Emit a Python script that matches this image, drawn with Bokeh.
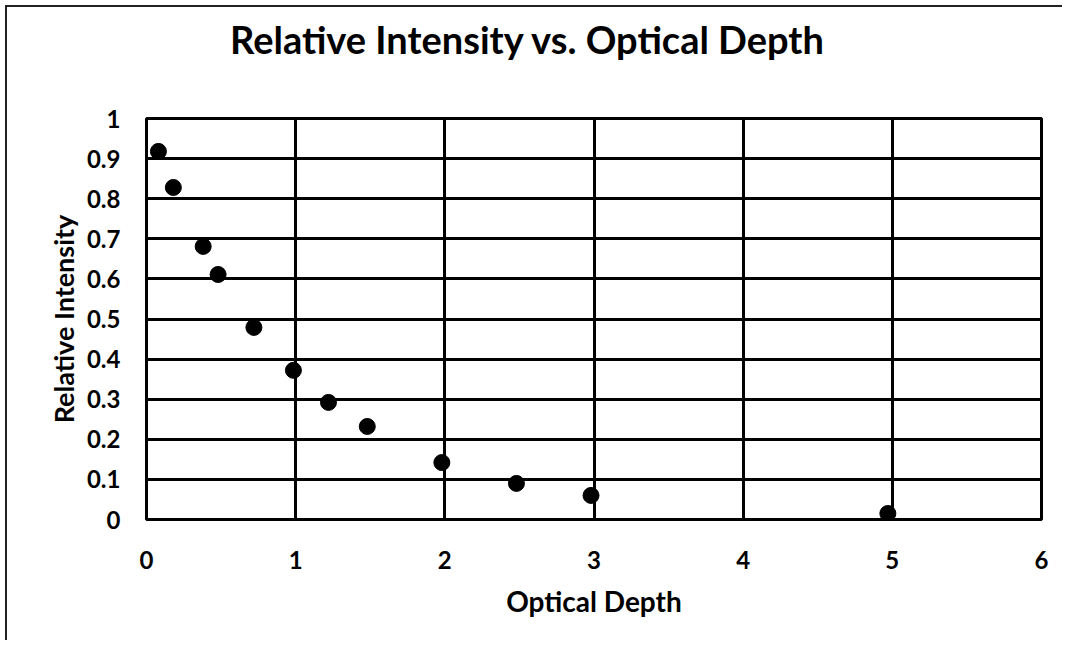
from bokeh.plotting import figure
from bokeh.models import ColumnDataSource, FixedTicker, Div
from bokeh.layouts import column
from bokeh.embed import file_html
from bokeh.resources import INLINE

optical_depth = [0.08, 0.18, 0.38, 0.48, 0.72, 0.985, 1.22, 1.48, 1.98, 2.48, 2.98, 4.97]
relative_intensity = [0.918, 0.828, 0.681, 0.611, 0.479, 0.372, 0.292, 0.232, 0.142, 0.090, 0.060, 0.015]
x_ticks = [0, 1, 2, 3, 4, 5, 6]
y_ticks = [0, 0.1, 0.2, 0.3, 0.4, 0.5, 0.6, 0.7, 0.8, 0.9, 1]
y_labels = {0: "0", 0.1: "0.1", 0.2: "0.2", 0.3: "0.3", 0.4: "0.4", 0.5: "0.5",
            0.6: "0.6", 0.7: "0.7", 0.8: "0.8", 0.9: "0.9", 1: "1"}
chart_title = "Relative Intensity vs. Optical Depth"

FONT = "Lato"
TITLE_H = 80

header = Div(text=chart_title, width=1055, height=TITLE_H,
             styles={"font-family": FONT, "font-weight": "bold", "font-size": "38px",
                     "line-height": "1.2", "color": "black", "padding-top": "10px",
                     "padding-left": "223px", "white-space": "nowrap",
                     "box-sizing": "border-box", "margin": "0"})

p = figure(width=1055, height=633 - TITLE_H, output_backend="svg", toolbar_location=None,
           x_range=(0, 6), y_range=(0, 1),
           min_border_left=139, min_border_right=21, min_border_top=111 - TITLE_H,
           min_border_bottom=121)

p.outline_line_color = "black"
p.outline_line_width = 3

for ax in (p.xaxis, p.yaxis):
    ax.axis_line_color = None
    ax.major_tick_line_color = None
    ax.minor_tick_line_color = None
    ax.major_label_text_font = FONT
    ax.major_label_text_font_style = "bold"
    ax.major_label_text_font_size = "24px"
    ax.major_label_text_color = "black"
    ax.axis_label_text_font = FONT
    ax.axis_label_text_font_style = "bold"
    ax.axis_label_text_color = "black"

p.xaxis.axis_label_text_font_size = "28px"
p.yaxis.axis_label_text_font_size = "27px"
p.xaxis.ticker = FixedTicker(ticks=x_ticks)
p.yaxis.ticker = FixedTicker(ticks=y_ticks)
p.yaxis.major_label_overrides = y_labels
p.xaxis.major_label_standoff = 25
p.yaxis.major_label_standoff = 20
p.xaxis.axis_label = "Optical Depth"
p.yaxis.axis_label = "Relative Intensity"
p.xaxis.axis_label_standoff = 12
p.yaxis.axis_label_standoff = 4

p.xgrid.grid_line_color = "black"
p.ygrid.grid_line_color = "black"
p.xgrid.grid_line_width = 3
p.ygrid.grid_line_width = 3

src = ColumnDataSource(dict(x=optical_depth, y=relative_intensity))
p.scatter("x", "y", source=src, size=16, fill_color="black", line_color="black")

layout = column(header, p, spacing=0)
layout.margin = (5, 0, 0, 5)
layout.styles = {"border-left": "2px solid #222", "border-top": "2px solid #222"}

open("out.html", "w").write(file_html(layout, INLINE))
